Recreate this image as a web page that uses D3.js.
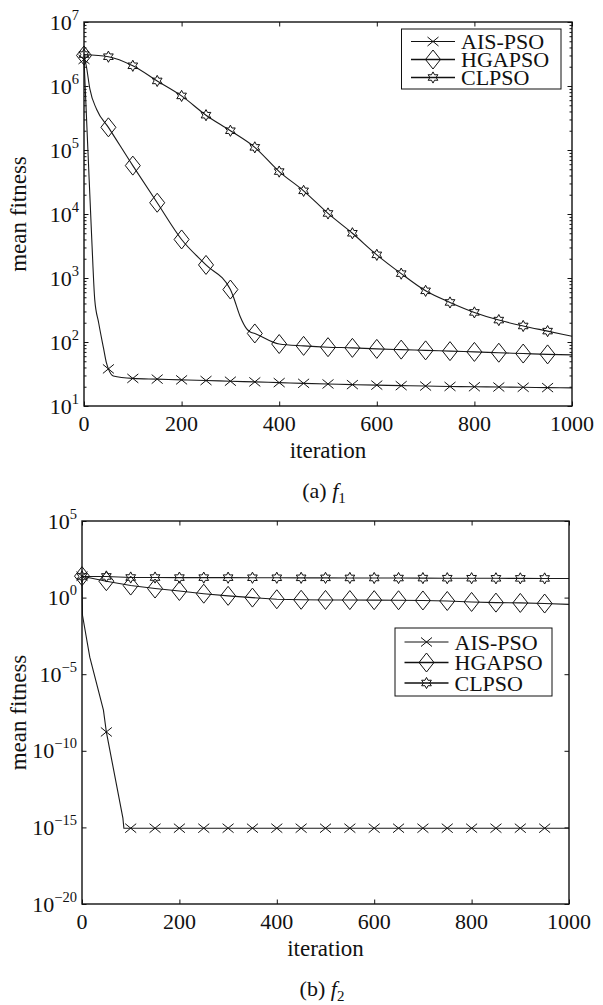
<!DOCTYPE html>
<html><head><meta charset="utf-8">
<style>
body{margin:0;background:#fff}
svg{display:block}
text{font-family:"Liberation Serif","Times New Roman",Times,Tinos,serif;fill:#111}
</style>
</head><body>
<svg width="603" height="1005"></svg>
<script src="https://cdn.jsdelivr.net/npm/d3@7/dist/d3.min.js"></script>
<script>
// values: [iteration, mean fitness]
var iterTicks = [0, 200, 400, 600, 800, 1000];
var names = ["AIS-PSO", "HGAPSO", "CLPSO"];
var shapes = ["x", "diamond", "hex"];

var f1Ais = [[0,2.6e6],[8,1e5],[16,3.9e3],[22,460],[30,200],[40,80],[46,47],[50,38],[60,29.5],
  [100,27],[150,26.3],[200,25.6],[250,25],[300,24.4],[350,23.8],[400,23.2],[450,22.6],[500,22.1],
  [550,21.6],[600,21.2],[650,20.8],[700,20.5],[750,20.2],[800,20],[850,19.8],[900,19.6],[950,19.4],[1000,19.2]];
var f1Hga = [[0,3e6],[5,2e6],[12,9e5],[26,4.3e5],[50,2.26e5],[100,5.7e4],[150,1.5e4],[200,4e3],
  [250,1.6e3],[300,660],[306,510],[320,250],[333,162],[340,145],[350,136],[400,93],[450,87],[500,83],
  [550,81],[600,78],[650,76],[700,74],[750,72],[800,70],[850,68],[900,66],[950,64],[1000,63]];
var f1Clp = [[0,3.1e6],[50,2.87e6],[100,2.07e6],[150,1.2e6],[200,7e5],[250,3.5e5],[300,2e5],
  [350,1.1e5],[400,4.6e4],[450,2.3e4],[500,1.02e4],[550,5e3],[600,2.3e3],[650,1.17e3],[700,630],
  [750,415],[800,290],[850,220],[900,178],[950,148],[1000,123]];

var f2Ais = [[0,25],[1,0.07],[16,1.3e-4],[44,4.5e-8],[50,1.7e-9],[84,4e-15],[86,8.88e-16],
  [100,8.88e-16],[150,8.88e-16],[200,8.88e-16],[250,8.88e-16],[300,8.88e-16],[350,8.88e-16],
  [400,8.88e-16],[450,8.88e-16],[500,8.88e-16],[550,8.88e-16],[600,8.88e-16],[650,8.88e-16],
  [700,8.88e-16],[750,8.88e-16],[800,8.88e-16],[850,8.88e-16],[900,8.88e-16],[950,8.88e-16],[1000,8.88e-16]];
var f2Hga = [[0,25],[50,11.8],[100,6.1],[150,3.9],[200,2.7],[250,1.8],[300,1.3],[350,1.0],[400,0.78],
  [450,0.72],[500,0.7],[550,0.69],[600,0.68],[650,0.67],[700,0.65],[750,0.6],[800,0.52],[850,0.47],
  [900,0.45],[950,0.41],[1000,0.36]];
var f2Clp = [[0,24],[50,24],[100,20.5],[150,20.4],[200,20.2],[250,20.1],[300,20],[350,19.8],[400,19.7],
  [450,19.5],[500,19.4],[550,19.2],[600,19],[650,18.9],[700,18.7],[750,18.5],[800,18.4],[850,18.2],
  [900,18],[950,17.8],[1000,17.6]];

var f1Major = [1e1,1e2,1e3,1e4,1e5,1e6,1e7];
var f1Exp = ["1","2","3","4","5","6","7"];
var f2Major = [1e-20,1e-15,1e-10,1e-5,1e0,1e5];
var f2Exp = ["\u221220","\u221215","\u221210","\u22125","0","5"];

var svg = d3.select("svg");

function marker(g, type) {
  if (type == "x") {
    g.append("path").attr("d", "M-5.5,-4.5L5.5,4.5M-5.5,4.5L5.5,-4.5");
  } else if (type == "diamond") {
    g.append("path").attr("d", "M0,-9.5L7.5,0L0,9.5L-7.5,0Z");
  } else {
    var pts = [];
    for (var i = 0; i < 12; i++) {
      var a = -Math.PI / 2 + i * Math.PI / 6, r = i % 2 ? 3.1 : 5.6;
      pts.push([r * Math.cos(a), r * Math.sin(a)]);
    }
    g.append("path").attr("d", "M" + pts.join("L") + "Z");
  }
  g.attr("fill", "none").attr("stroke", "#111").attr("stroke-width", 1);
}

function panel(o) {
  var x = d3.scaleLinear().domain([0, 1000]).range([o.l, o.r]);
  var y = d3.scaleLog().domain(o.yDomain).range([o.b, o.t]);
  var g = svg.append("g");

  // ticks (inward, matlab style)
  var minor = o.minor ? y.ticks().filter(function(v) { return o.major.indexOf(v) < 0; }) : [];
  [[d3.axisLeft, o.l], [d3.axisRight, o.r]].forEach(function(a) {
    g.append("g").attr("transform", "translate(" + a[1] + ",0)")
      .call(a[0](y).tickValues(o.major).tickSize(-4.5).tickFormat(""));
    if (minor.length) g.append("g").attr("transform", "translate(" + a[1] + ",0)")
      .call(a[0](y).tickValues(minor).tickSize(-2.5).tickFormat(""));
  });
  g.append("g").attr("transform", "translate(0," + o.b + ")")
    .call(d3.axisBottom(x).tickValues(iterTicks).tickSize(-4.5).tickFormat(""));
  g.append("g").attr("transform", "translate(0," + o.t + ")")
    .call(d3.axisTop(x).tickValues(iterTicks).tickSize(-4.5).tickFormat(""));
  g.selectAll(".domain").remove();
  g.selectAll(".tick line").attr("stroke", "#111").attr("stroke-width", 1);

  // lines and markers
  var line = d3.line().x(function(d) { return x(d[0]); }).y(function(d) { return y(d[1]); }).curve(o.curve);
  o.series.forEach(function(s, i) {
    g.append("path").datum(s).attr("d", line)
      .attr("fill", "none").attr("stroke", "#1a1a1a").attr("stroke-width", 1.1);
    s.filter(function(d) { return d[0] % 50 == 0 && d[0] < 1000; }).forEach(function(d) {
      marker(g.append("g").attr("transform", "translate(" + x(d[0]) + "," + y(d[1]) + ")"), shapes[i]);
    });
  });

  g.append("rect").attr("x", o.l).attr("y", o.t).attr("width", o.r - o.l).attr("height", o.b - o.t)
    .attr("fill", "none").attr("stroke", "#111").attr("stroke-width", 1.4);

  // tick labels
  o.major.forEach(function(v, i) {
    var t = g.append("text").attr("x", o.l - 5).attr("y", y(v) + 7.5)
      .attr("text-anchor", "end").attr("font-size", 22);
    t.append("tspan").text("10");
    t.append("tspan").attr("dy", -10).attr("font-size", 14.5).text(o.exp[i]);
  });
  iterTicks.forEach(function(v) {
    g.append("text").attr("x", x(v)).attr("y", o.b + 24.5).attr("text-anchor", "middle")
      .attr("font-size", 22).text(v);
  });
  g.append("text").attr("x", (o.l + o.r) / 2).attr("y", o.b + 52).attr("text-anchor", "middle")
    .attr("font-size", 23).text("iteration");
  g.append("text").attr("transform", "translate(26," + (o.t + o.b) / 2 + ") rotate(-90)")
    .attr("text-anchor", "middle").attr("font-size", 23).text("mean fitness");

  // caption
  var c = g.append("text").attr("x", o.capX).attr("y", o.b + 92).attr("text-anchor", "middle")
    .attr("font-size", 22);
  c.append("tspan").text("(" + o.cap + ") ");
  c.append("tspan").attr("font-style", "italic").text("f");
  c.append("tspan").attr("dy", 5).attr("font-size", 15).text(o.sub);

  // legend
  var L = o.legend;
  g.append("rect").attr("x", L.x).attr("y", L.y).attr("width", L.w).attr("height", L.h)
    .attr("fill", "#fff").attr("stroke", "#111").attr("stroke-width", 1);
  names.forEach(function(n, i) {
    var yy = L.y + L.first + i * L.step;
    g.append("line").attr("x1", L.x + 9.5).attr("x2", L.x + 53.5).attr("y1", yy).attr("y2", yy)
      .attr("stroke", "#111").attr("stroke-width", i == 0 ? 1 : 1.6);
    marker(g.append("g").attr("transform", "translate(" + (L.x + 31.5) + "," + yy + ")"), shapes[i]);
    g.append("text").attr("x", L.x + 59.5).attr("y", yy + 7.5).attr("font-size", 22).text(n);
  });
}

panel({l: 84, r: 572, t: 22, b: 406, yDomain: [1e1, 1e7], major: f1Major, exp: f1Exp, minor: true,
  series: [f1Ais, f1Hga, f1Clp], curve: d3.curveMonotoneX, cap: "a", sub: "1", capX: 324,
  legend: {x: 401.5, y: 29, w: 159.5, h: 60, first: 12.5, step: 18}});
panel({l: 82, r: 569, t: 521, b: 904, yDomain: [1e-20, 1e5], major: f2Major, exp: f2Exp, minor: false,
  series: [f2Ais, f2Hga, f2Clp], curve: d3.curveLinear, cap: "b", sub: "2", capX: 322,
  legend: {x: 395, y: 628, w: 157, h: 68, first: 14, step: 20.5}});
</script>
</body></html>
